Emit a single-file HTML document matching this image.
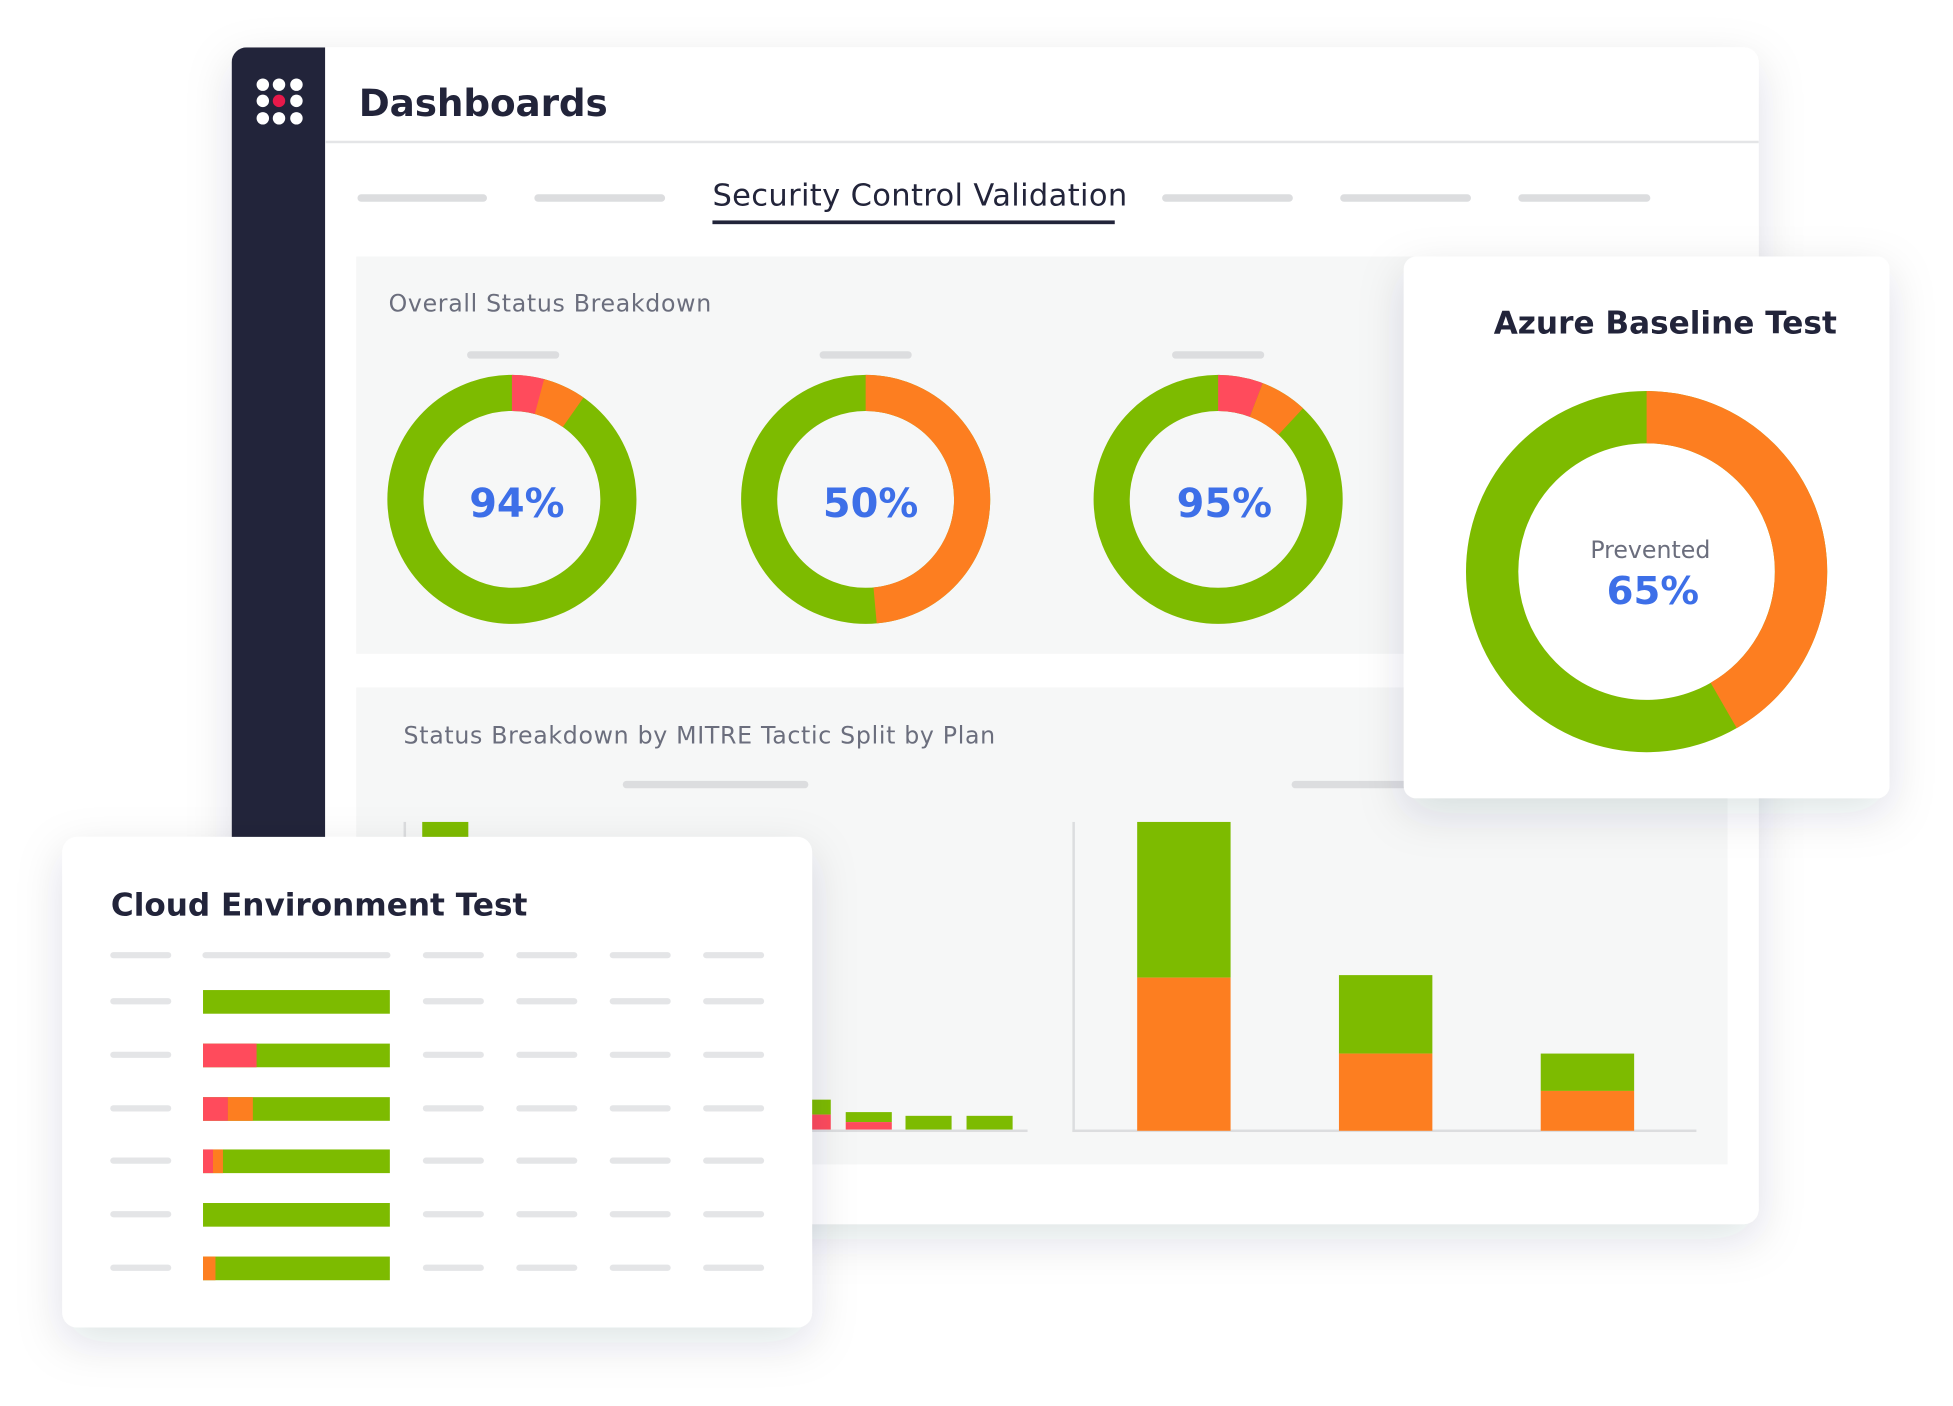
<!DOCTYPE html>
<html><head><meta charset="utf-8"><style>html,body{margin:0;padding:0;background:#fff}svg{display:block}text{font-family:"DejaVu Sans","Liberation Sans",sans-serif}</style></head>
<body>
<svg width="1953" height="1406" viewBox="0 0 1568 1129" preserveAspectRatio="none" xmlns="http://www.w3.org/2000/svg">
<defs>
<filter id="sh" x="-20%" y="-20%" width="140%" height="150%"><feDropShadow dx="0" dy="12" stdDeviation="18" flood-color="#1e2240" flood-opacity="0.13"/></filter>
<clipPath id="mainclip"><rect x="186" y="38" width="1226" height="945" rx="12"/></clipPath>
</defs>
<rect width="1568" height="1129" fill="#fff"/>
<rect x="186" y="38" width="1226" height="945" rx="12" fill="#fff" filter="url(#sh)"/>
<g clip-path="url(#mainclip)">
<rect x="186" y="38" width="75" height="945" fill="#22243a"/>
</g>
<g fill="#fff">
<circle cx="211" cy="68" r="5"/><circle cx="224" cy="68" r="5"/><circle cx="238" cy="68" r="5"/>
<circle cx="211" cy="81" r="5"/><circle cx="224" cy="81" r="5" fill="#e8194a"/><circle cx="238" cy="81" r="5"/>
<circle cx="211" cy="95" r="5"/><circle cx="224" cy="95" r="5"/><circle cx="238" cy="95" r="5"/>
</g>
<text x="288" y="93" font-size="30" font-weight="bold" fill="#22243a" textLength="200">Dashboards</text>
<rect x="261" y="113" width="1151" height="2" fill="#e4e5e7"/>
<g stroke="#dcdddf" stroke-width="6" stroke-linecap="round">
<line x1="290" y1="159" x2="388" y2="159"/><line x1="432" y1="159" x2="531" y2="159"/>
<line x1="936" y1="159" x2="1035" y2="159"/><line x1="1079" y1="159" x2="1178" y2="159"/><line x1="1222" y1="159" x2="1322" y2="159"/>
</g>
<text x="572" y="165" font-size="24.5" fill="#22243a" textLength="333">Security Control Validation</text>
<rect x="572" y="177" width="323" height="3" fill="#22243a"/>
<rect x="286" y="206" width="1101" height="319" fill="#f6f7f7"/>
<text x="312" y="250" font-size="19" fill="#6b6e7d" textLength="259">Overall Status Breakdown</text>
<g stroke="#dcdddf" stroke-width="6" stroke-linecap="round">
<line x1="378" y1="285" x2="446" y2="285"/><line x1="661" y1="285" x2="729" y2="285"/><line x1="944" y1="285" x2="1012" y2="285"/>
</g>
<g fill="none" stroke-width="29">
<circle cx="411" cy="401" r="85.5" stroke="#7dbb00"/>
<circle cx="411" cy="401" r="85.5" stroke="#ff4b5c" stroke-dasharray="23 600" transform="rotate(-90 411 401)"/>
<circle cx="411" cy="401" r="85.5" stroke="#fd7e20" stroke-dasharray="30 600" transform="rotate(-75 411 401)"/>
<circle cx="695" cy="401" r="85.5" stroke="#7dbb00"/>
<circle cx="695" cy="401" r="85.5" stroke="#fd7e20" stroke-dasharray="260.9 600" transform="rotate(-90 695 401)"/>
<circle cx="978" cy="401" r="85.5" stroke="#7dbb00"/>
<circle cx="978" cy="401" r="85.5" stroke="#ff4b5c" stroke-dasharray="31.3 600" transform="rotate(-90 978 401)"/>
<circle cx="978" cy="401" r="85.5" stroke="#fd7e20" stroke-dasharray="32.8 600" transform="rotate(-69 978 401)"/>
</g>
<g font-size="32" font-weight="bold" fill="#3d6fe8" text-anchor="middle">
<text x="415" y="415">94%</text><text x="699" y="415">50%</text><text x="983" y="415">95%</text>
</g>
<rect x="286" y="552" width="1101" height="383" fill="#f6f7f7"/>
<text x="324" y="597" font-size="19" fill="#6b6e7d" textLength="475">Status Breakdown by MITRE Tactic Split by Plan</text>
<g stroke="#dcdddf" stroke-width="6" stroke-linecap="round">
<line x1="503" y1="630" x2="646" y2="630"/><line x1="1040" y1="630" x2="1130" y2="630"/>
</g>
<rect x="324" y="660" width="2" height="249" fill="#dcdddf"/>
<rect x="339" y="660" width="37" height="20" fill="#7dbb00"/>
<rect x="324" y="907" width="501" height="2" fill="#dcdddf"/>
<rect x="652" y="883" width="15" height="12" fill="#7dbb00"/><rect x="652" y="895" width="15" height="12" fill="#ff4b5c"/>
<rect x="679" y="893" width="37" height="8" fill="#7dbb00"/><rect x="679" y="901" width="37" height="6" fill="#ff4b5c"/>
<rect x="727" y="896" width="37" height="11" fill="#7dbb00"/>
<rect x="776" y="896" width="37" height="11" fill="#7dbb00"/>
<rect x="861" y="660" width="2" height="249" fill="#dcdddf"/>
<rect x="861" y="907" width="501" height="2" fill="#dcdddf"/>
<rect x="913" y="660" width="75" height="125" fill="#7dbb00"/><rect x="913" y="785" width="75" height="123" fill="#fd7e20"/>
<rect x="1075" y="783" width="75" height="63" fill="#7dbb00"/><rect x="1075" y="846" width="75" height="62" fill="#fd7e20"/>
<rect x="1237" y="846" width="75" height="30" fill="#7dbb00"/><rect x="1237" y="876" width="75" height="32" fill="#fd7e20"/>
<rect x="1127" y="206" width="390" height="435" rx="10" fill="#fff" filter="url(#sh)"/>
<text x="1337" y="268" font-size="25" font-weight="bold" fill="#22243a" text-anchor="middle">Azure Baseline Test</text>
<g fill="none" stroke-width="42">
<circle cx="1322" cy="459" r="124" stroke="#7dbb00"/>
<circle cx="1322" cy="459" r="124" stroke="#fd7e20" stroke-dasharray="324.6 900" transform="rotate(-90 1322 459)"/>
</g>
<text x="1325" y="448" font-size="19" fill="#6b6e7d" text-anchor="middle">Prevented</text>
<text x="1327" y="485" font-size="31" font-weight="bold" fill="#3d6fe8" text-anchor="middle">65%</text>
<rect x="50" y="672" width="602" height="394" rx="12" fill="#fff" filter="url(#sh)"/>
<text x="89" y="735" font-size="25" font-weight="bold" fill="#22243a">Cloud Environment Test</text>
<g stroke="#e4e5e7" stroke-width="5" stroke-linecap="round">
<line x1="91" y1="767" x2="135" y2="767"/><line x1="165" y1="767" x2="311" y2="767"/>
<line x1="342" y1="767" x2="386" y2="767"/><line x1="417" y1="767" x2="461" y2="767"/><line x1="492" y1="767" x2="536" y2="767"/><line x1="567" y1="767" x2="611" y2="767"/>
<line x1="91" y1="804" x2="135" y2="804"/><line x1="342" y1="804" x2="386" y2="804"/><line x1="417" y1="804" x2="461" y2="804"/><line x1="492" y1="804" x2="536" y2="804"/><line x1="567" y1="804" x2="611" y2="804"/>
<line x1="91" y1="847" x2="135" y2="847"/><line x1="342" y1="847" x2="386" y2="847"/><line x1="417" y1="847" x2="461" y2="847"/><line x1="492" y1="847" x2="536" y2="847"/><line x1="567" y1="847" x2="611" y2="847"/>
<line x1="91" y1="890" x2="135" y2="890"/><line x1="342" y1="890" x2="386" y2="890"/><line x1="417" y1="890" x2="461" y2="890"/><line x1="492" y1="890" x2="536" y2="890"/><line x1="567" y1="890" x2="611" y2="890"/>
<line x1="91" y1="932" x2="135" y2="932"/><line x1="342" y1="932" x2="386" y2="932"/><line x1="417" y1="932" x2="461" y2="932"/><line x1="492" y1="932" x2="536" y2="932"/><line x1="567" y1="932" x2="611" y2="932"/>
<line x1="91" y1="975" x2="135" y2="975"/><line x1="342" y1="975" x2="386" y2="975"/><line x1="417" y1="975" x2="461" y2="975"/><line x1="492" y1="975" x2="536" y2="975"/><line x1="567" y1="975" x2="611" y2="975"/>
<line x1="91" y1="1018" x2="135" y2="1018"/><line x1="342" y1="1018" x2="386" y2="1018"/><line x1="417" y1="1018" x2="461" y2="1018"/><line x1="492" y1="1018" x2="536" y2="1018"/><line x1="567" y1="1018" x2="611" y2="1018"/>
</g>
<g>
<rect x="163" y="795" width="150" height="19" fill="#7dbb00"/>
<rect x="163" y="838" width="150" height="19" fill="#7dbb00"/><rect x="163" y="838" width="43" height="19" fill="#ff4b5c"/>
<rect x="163" y="881" width="150" height="19" fill="#7dbb00"/><rect x="163" y="881" width="20" height="19" fill="#ff4b5c"/><rect x="183" y="881" width="20" height="19" fill="#fd7e20"/>
<rect x="163" y="923" width="150" height="19" fill="#7dbb00"/><rect x="163" y="923" width="8" height="19" fill="#ff4b5c"/><rect x="171" y="923" width="8" height="19" fill="#fd7e20"/>
<rect x="163" y="966" width="150" height="19" fill="#7dbb00"/>
<rect x="163" y="1009" width="150" height="19" fill="#7dbb00"/><rect x="163" y="1009" width="10" height="19" fill="#fd7e20"/>
</g>
</svg>
</body></html>
